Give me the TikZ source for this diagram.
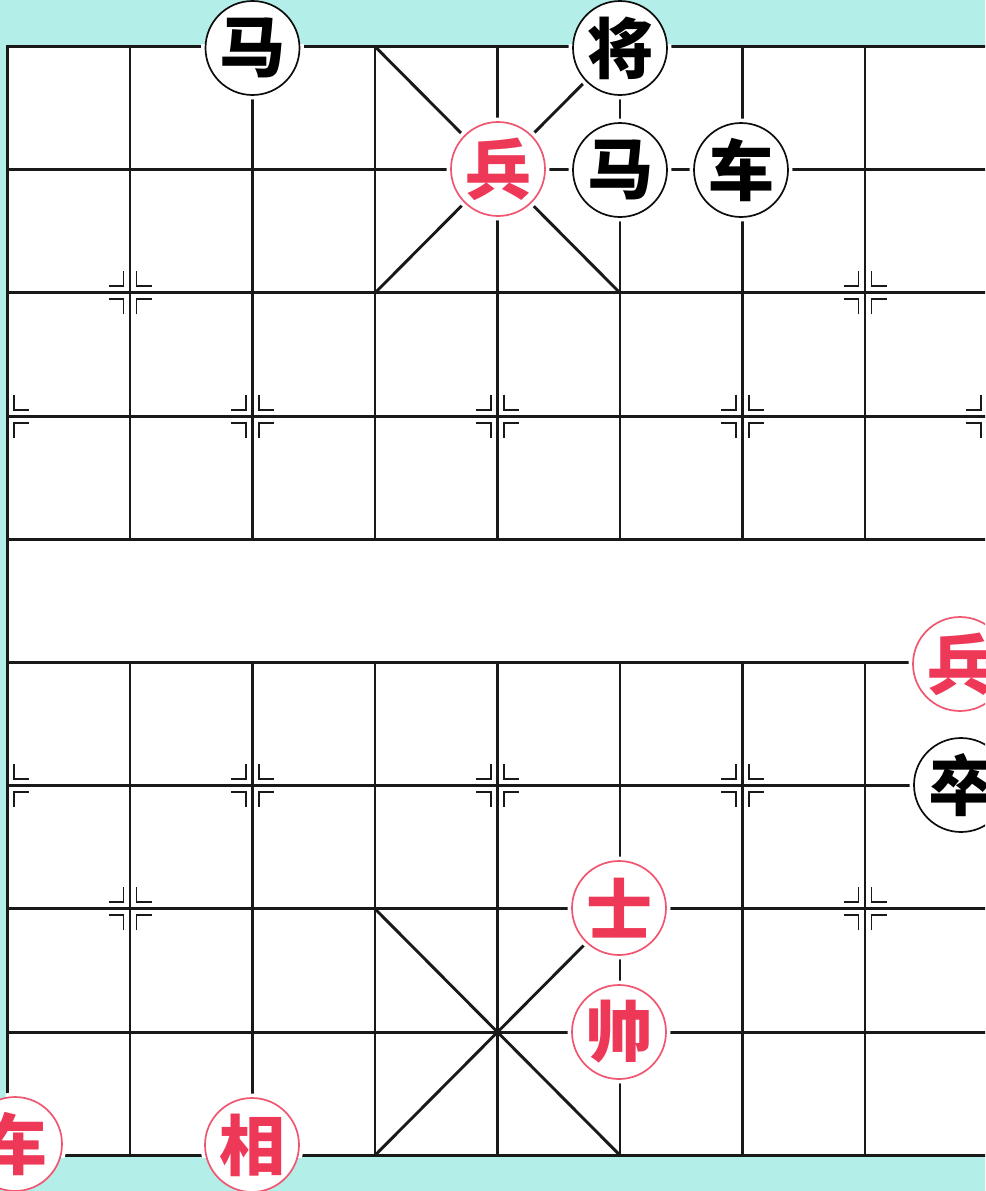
\documentclass[tikz,border=0pt]{standalone}
\usepackage{fontspec}
\newfontfamily\cjk{Noto Sans CJK SC}
\definecolor{bgcyan}{RGB}{180,238,232}
\definecolor{pcred}{RGB}{238,56,88}

\begin{document}
\begin{tikzpicture}[x=1pt, y=-1pt,
		grid/.style = {line width=2.9pt, black!90},
		edge/.style = {line width=3.6pt, black!90},
		starpt/.style = {line width=1.9pt, black!90},
		bp/.style = {circle, draw=black!95, line width=1.7pt, fill=white, minimum size=94pt, inner sep=0pt, text=black, font=\cjk\bfseries\fontsize{66}{66}\selectfont},
		rp/.style = {bp, draw=pcred!85, text=pcred},
		rmark/.pic = {\draw[starpt] (6.5,-21.5) -- (6.5,-6.5) -- (21.5,-6.5);
			\draw[starpt] (6.5,21.5) -- (6.5,6.5) -- (21.5,6.5);},
		lmark/.pic = {\draw[starpt] (-6.5,-21.5) -- (-6.5,-6.5) -- (-21.5,-6.5);
			\draw[starpt] (-6.5,21.5) -- (-6.5,6.5) -- (-21.5,6.5);}
		]
		
		%Board
		\useasboundingbox (0,0) rectangle (985,1191);
		\clip (0,0) rectangle (985,1191);
		\fill[bgcyan] (0,0) rectangle (985,1191);
		\fill[white] (7.5,46.5) rectangle (987.5,1155.3);
		
		%Lines
		\foreach \y in {169.7,292.9,416.1,539.3,662.5,785.7,908.9,1032.1}
			\draw[grid] (7.5,\y) -- (987.5,\y);
		\foreach \x in {130,252.5,375,497.5,620,742.5,865}{
			\draw[grid] (\x,46.5) -- (\x,539.3);
			\draw[grid] (\x,662.5) -- (\x,1155.3);
		}
		\draw[edge] (7.5,46.5) rectangle (987.5,1155.3);
		\draw[grid] (375,46.5) -- (620,292.9) (620,46.5) -- (375,292.9);
		\draw[grid] (375,908.9) -- (620,1155.3) (620,908.9) -- (375,1155.3);
		
		%Marks
		\foreach \x/\y in {130/292.9, 865/292.9, 130/908.9, 865/908.9,
			252.5/416.1, 497.5/416.1, 742.5/416.1, 252.5/785.7, 497.5/785.7, 742.5/785.7}
			\path (\x,\y) pic {lmark} pic {rmark};
		\path (7.5,416.1) pic {rmark} (7.5,785.7) pic {rmark};
		\path (987.5,416.1) pic {lmark} (987.5,785.7) pic {lmark};
		
		%Places
		\coordinate (pma1)	at (252.5,48);
		\coordinate (pjiang)	at (620,48);
		\coordinate (pbing1)	at (498,169);
		\coordinate (pma2)	at (620,170);
		\coordinate (pche1)	at (741,170);
		\coordinate (pbing2)	at (960,664);
		\coordinate (pzu)	at (961,785);
		\coordinate (pshi)	at (619,908);
		\coordinate (pshuai)	at (619,1032);
		\coordinate (pche2)	at (15,1144);
		\coordinate (pxiang)	at (252,1145);
		
		\begin{scope}
			\clip (5.7,44.7) rectangle (990,1157);
			\foreach \c in {pma1,pjiang,pbing1,pma2,pche1,pbing2,pzu,pshi,pshuai,pche2,pxiang}
				\fill[white] (\c) circle (51.5);
		\end{scope}
		
		%Pieces
		\node[bp]	(ma1)	at (pma1)	{马};
		\node[bp]	(jiang)	at (pjiang)	{将};
		\node[rp]	(bing1)	at (pbing1)	{兵};
		\node[bp]	(ma2)	at (pma2)	{马};
		\node[bp]	(che1)	at (pche1)	{车};
		\node[rp]	(bing2)	at (pbing2)	{兵};
		\node[bp]	(zu)	at (pzu)	{卒};
		\node[rp]	(shi)	at (pshi)	{士};
		\node[rp]	(shuai)	at (pshuai)	{帅};
		\node[rp]	(che2)	at (pche2)	{车};
		\node[rp]	(xiang)	at (pxiang)	{相};
	\end{tikzpicture}
\end{document}
